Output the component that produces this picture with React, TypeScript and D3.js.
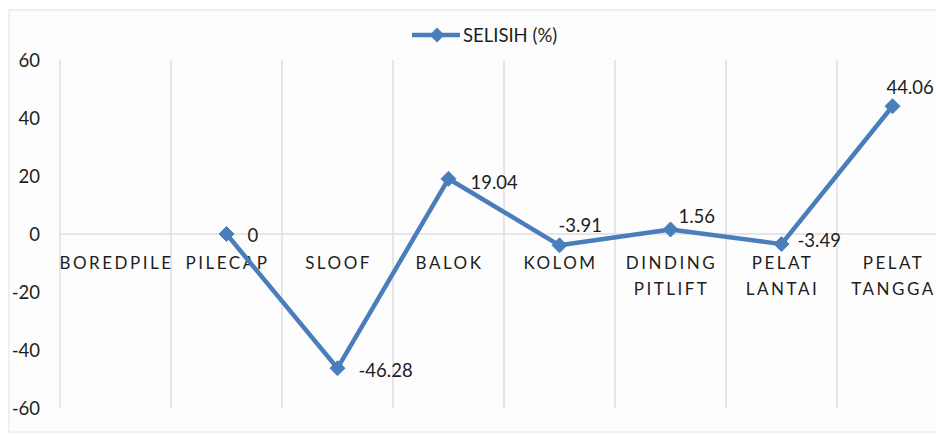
import React from "react";
import * as d3 from "d3";

const categories = ["BOREDPILE", "PILECAP", "SLOOF", "BALOK", "KOLOM", "DINDING PITLIFT", "PELAT LANTAI", "PELAT TANGGA"];
const selisih: (number | null)[] = [null, 0, -46.28, 19.04, -3.91, 1.56, -3.49, 44.06];
const yTicks = [-60, -40, -20, 0, 20, 40, 60];
const seriesName = "SELISIH (%)";
// label offsets (dx to left edge, dy to vertical center) relative to marker
const labelOffsets: [number, number][] = [[0, 0], [21, 1], [21, 2], [22, 3], [-1, -20], [8, -13], [16, -4], [-6, -19]];

const W = 936, H = 434;
const FONT = "Lato, 'Open Sans', sans-serif";
const BLUE = "#4a7ebb";

function diamond(cx: number, cy: number, r: number) {
  return `M${cx},${cy - r}L${cx + r},${cy}L${cx},${cy + r}L${cx - r},${cy}Z`;
}

export default function App() {
  const x = d3.scaleBand<string>().domain(categories).range([60, 948]).padding(0);
  const y = d3.scaleLinear().domain([-60, 60]).range([408, 60]);
  const cx = (c: string) => (x(c) as number) + x.bandwidth() / 2;
  const pts = categories.map((c, i) => ({ c, v: selisih[i], i }));
  const line = d3.line<{ c: string; v: number | null }>()
    .defined((d) => d.v != null)
    .x((d) => cx(d.c))
    .y((d) => y(d.v as number));
  const fmt = (v: number) => (v === 0 ? "0" : String(v));
  return (
    <svg width={W} height={H} style={{ position: "absolute", left: 0, top: 0, background: "#fff" }}>
      <rect x={9} y={10} width={960} height={422} fill="#fdfdfd" stroke="#ececec" strokeWidth={1.5} />
      {categories.map((c) => (
        <line key={c} x1={x(c)} x2={x(c)} y1={y(60)} y2={y(-60)} stroke="#dedede" strokeWidth={1.5} />
      ))}
      <line x1={60} x2={948} y1={y(0)} y2={y(0)} stroke="#dedede" strokeWidth={1.5} />
      {yTicks.map((t) => (
        <text key={t} x={40} y={y(t)} textAnchor="end" dominantBaseline="central" fontFamily={FONT} fontSize={18.5} fill="#1e1e1e">
          {t}
        </text>
      ))}
      {categories.map((c) => (
        <text key={c} x={cx(c) + 1} y={262} textAnchor="middle" fontFamily={FONT} fontSize={17} letterSpacing={2.5} fill="#1e1e1e">
          {c.split(" ").map((w, j) => (
            <tspan key={j} x={cx(c) + 1} y={262 + j * 26} dominantBaseline="central">{w}</tspan>
          ))}
        </text>
      ))}
      <path d={line(pts) || ""} fill="none" stroke={BLUE} strokeWidth={4.5} strokeLinejoin="round" />
      {pts.filter((p) => p.v != null).map((p) => (
        <path key={p.c} d={diamond(cx(p.c), y(p.v as number), 7.5)} fill={BLUE} stroke={BLUE} strokeWidth={1} />
      ))}
      {pts.filter((p) => p.v != null).map((p) => (
        <text key={p.c} x={cx(p.c) + labelOffsets[p.i][0]} y={y(p.v as number) + labelOffsets[p.i][1]}
          dominantBaseline="central" fontFamily={FONT} fontSize={18.5} fill="#1e1e1e">
          {fmt(p.v as number)}
        </text>
      ))}
      <g>
        <line x1={412} x2={460} y1={35} y2={35} stroke={BLUE} strokeWidth={4.5} />
        <path d={diamond(437, 35, 7.5)} fill={BLUE} />
        <text x={463} y={35} dominantBaseline="central" fontFamily={FONT} fontSize={18.5} fill="#1e1e1e">{seriesName}</text>
      </g>
    </svg>
  );
}
